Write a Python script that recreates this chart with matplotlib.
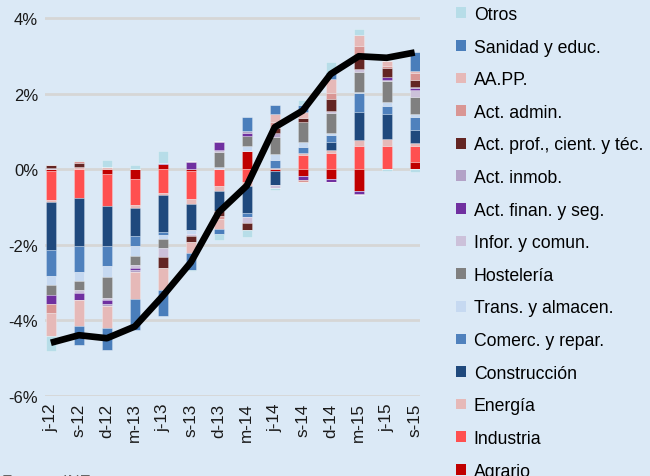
import numpy as np
import matplotlib
matplotlib.use("Agg")
import matplotlib.pyplot as plt
from matplotlib.patches import Patch

plt.rcParams['font.family'] = ['Liberation Sans', 'DejaVu Sans']

quarters = ["j-12", "s-12", "d-12", "m-13", "j-13", "s-13", "d-13",
            "m-14", "j-14", "s-14", "d-14", "m-15", "j-15", "s-15"]

# contributions by sector (p.p.), stacking order from zero outwards
agrario      = [-0.06, 0.00, -0.14, -0.25, 0.13, -0.06, 0.00, 0.49, -0.06, -0.18, -0.25, -0.57, 0.00, 0.19]
industria    = [-0.77, -0.76, -0.83, -0.69, -0.62, -0.73, -0.46, -0.35, 0.00, 0.38, 0.44, 0.60, 0.62, 0.42]
energia      = [-0.03, 0.06, 0.05, -0.08, -0.07, -0.13, -0.11, -0.10, 0.03, 0.04, 0.07, 0.18, 0.19, 0.09]
construccion = [-1.28, -1.27, -1.07, -0.75, -0.97, -0.69, -0.54, -0.71, -0.37, 0.00, 0.22, 0.73, 0.65, 0.34]
comercio     = [-0.69, -0.69, -0.52, -0.27, -0.08, 0.00, 0.00, -0.11, 0.20, 0.17, 0.18, 0.50, 0.22, 0.34]
transporte   = [-0.25, -0.25, -0.30, -0.27, -0.11, -0.11, 0.06, 0.11, 0.18, 0.14, 0.04, 0.03, 0.09, 0.07]
hosteleria   = [-0.26, -0.24, -0.55, -0.22, -0.25, 0.00, 0.40, 0.27, 0.45, 0.52, 0.55, 0.53, 0.56, 0.46]
informacion  = [0.00, -0.06, -0.06, -0.10, -0.24, -0.04, 0.04, -0.15, -0.06, 0.00, 0.03, 0.09, 0.04, 0.19]
financieras  = [-0.22, -0.20, -0.11, -0.05, 0.04, 0.18, 0.22, 0.10, 0.00, -0.10, -0.08, -0.09, 0.08, 0.05]
inmobiliaria = [0.04, 0.00, -0.05, -0.04, 0.00, 0.03, 0.03, 0.04, 0.09, 0.00, 0.00, -0.03, 0.00, 0.03]
profesional  = [0.06, 0.10, 0.00, 0.00, -0.27, -0.18, -0.12, -0.20, 0.13, 0.11, 0.34, 0.28, 0.22, 0.19]
administ     = [-0.25, 0.05, 0.00, 0.00, 0.00, 0.00, -0.10, 0.00, 0.17, -0.06, 0.16, 0.33, 0.07, 0.19]
aapp         = [-0.62, -0.69, -0.57, -0.71, -0.58, -0.27, -0.25, 0.00, 0.20, 0.16, 0.35, 0.29, 0.13, 0.05]
sanidad      = [0.00, -0.50, -0.58, -0.84, -0.71, -0.47, -0.14, 0.38, 0.25, 0.19, 0.20, 0.00, 0.00, 0.50]
otros        = [-0.39, 0.03, 0.20, 0.11, 0.31, -0.03, -0.15, -0.19, -0.06, 0.11, 0.26, 0.15, -0.04, -0.07]

total = [-4.60, -4.40, -4.48, -4.17, -3.36, -2.47, -1.14, -0.44, 1.11, 1.55, 2.52, 2.99, 2.95, 3.09]

sectors = [
    ("Agrario", agrario, "#c00000"),
    ("Industria", industria, "#ff5050"),
    ("Energía", energia, "#e6b9b8"),
    ("Construcción", construccion, "#1f497d"),
    ("Comerc. y repar.", comercio, "#4f81bd"),
    ("Trans. y almacen.", transporte, "#c6d9f1"),
    ("Hostelería", hosteleria, "#808080"),
    ("Infor. y comun.", informacion, "#ccc1da"),
    ("Act. finan. y seg.", financieras, "#7030a0"),
    ("Act. inmob.", inmobiliaria, "#b3a2c7"),
    ("Act. prof., cient. y téc.", profesional, "#632523"),
    ("Act. admin.", administ, "#d99694"),
    ("AA.PP.", aapp, "#e6b9b8"),
    ("Sanidad y educ.", sanidad, "#4a7ebb"),
    ("Otros", otros, "#b7dde8"),
]

bg = "#dbe9f6"
fig = plt.figure(figsize=(6.5, 4.77), dpi=100, facecolor=bg)
ax = fig.add_axes([45 / 650, 1 - 396.6 / 477, 375 / 650, 385 / 477])
ax.set_facecolor(bg)

x = np.arange(len(quarters))
pos_bottom = np.zeros(len(x))
neg_bottom = np.zeros(len(x))
for name, vals, col in sectors:
    v = np.array(vals)
    p = np.where(v > 0, v, 0)
    n = np.where(v < 0, v, 0)
    ax.bar(x, p, 0.36, bottom=pos_bottom, color=col,
           edgecolor=(1, 1, 1, 0.35), linewidth=0.5, zorder=2)
    ax.bar(x, n, 0.36, bottom=neg_bottom, color=col,
           edgecolor=(1, 1, 1, 0.35), linewidth=0.5, zorder=2)
    pos_bottom += p
    neg_bottom += n

ax.plot(x, total, color="black", linewidth=4.8, zorder=3,
        solid_joinstyle="round", solid_capstyle="butt")

ax.set_xlim(-0.21, 13.19)
ax.set_ylim(-6, 4.2)
ax.set_yticks([-6, -4, -2, 0, 2, 4])
ax.set_yticklabels(["-6%", "-4%", "-2%", "0%", "2%", "4%"], fontsize=12)
ax.set_xticks(x)
ax.set_xticklabels(quarters, rotation=90, fontsize=12.3)
ax.tick_params(length=0, pad=5, colors="#1a1a1a")
ax.yaxis.grid(True, color="#d6d6d6", linewidth=2, zorder=0)
ax.set_axisbelow(True)
for s in ax.spines.values():
    s.set_visible(False)

handles = [Patch(facecolor=col, edgecolor="none", label=name)
           for name, vals, col in sectors[::-1]]
fig.legend(handles=handles, loc="upper left",
           bbox_to_anchor=(456 / 650, 1 - 7 / 477), frameon=False,
           fontsize=12.7, handlelength=0.55, handleheight=0.55,
           handletextpad=0.45, labelspacing=0.885, borderpad=0,
           borderaxespad=0)

fig.text(2 / 650, 1 - 475 / 477, "Fuente: INE", fontsize=12, va="top",
         color="#666666")

fig.savefig("out.png", dpi=100, facecolor=bg)
